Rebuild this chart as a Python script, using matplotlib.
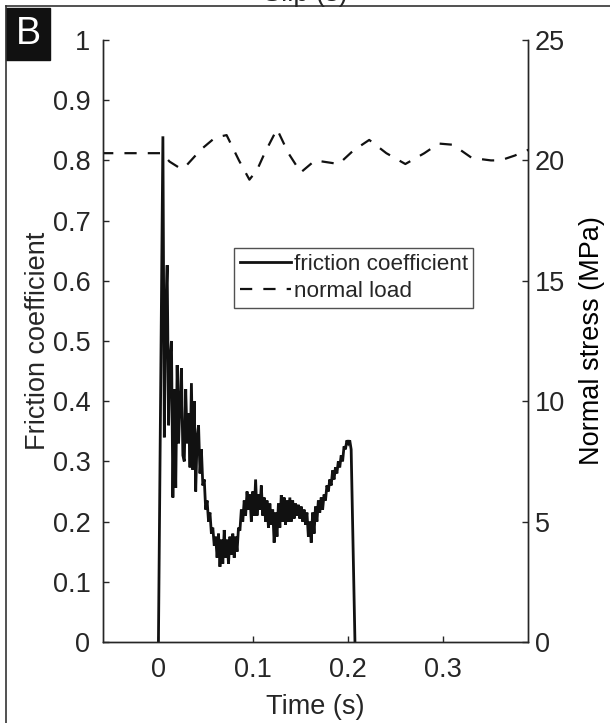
import matplotlib
matplotlib.use('Agg')
import matplotlib.pyplot as plt
from matplotlib.patches import Rectangle
from matplotlib.lines import Line2D

plt.rcParams['font.family'] = ['Liberation Sans', 'DejaVu Sans']

# ---------------- data ----------------
friction_time = [0.0003] + [round(0.005 + 0.0015 * k, 4) for k in range(133)] + [0.207]
friction_coef = [0.0,
    0.84, 0.34, 0.55, 0.626, 0.36, 0.47, 0.50, 0.24, 0.42, 0.256,
    0.46, 0.33, 0.40, 0.455, 0.31, 0.30, 0.42, 0.33, 0.38, 0.29,
    0.43, 0.286, 0.40, 0.25, 0.34, 0.36, 0.28, 0.32, 0.26, 0.27,
    0.22, 0.235, 0.20, 0.215, 0.18, 0.19, 0.16, 0.175, 0.14, 0.18,
    0.125, 0.17, 0.13, 0.186, 0.14, 0.17, 0.13, 0.175, 0.145, 0.18,
    0.14, 0.175, 0.15, 0.19, 0.185, 0.22, 0.20, 0.235, 0.21, 0.25,
    0.22, 0.245, 0.20, 0.25, 0.21, 0.27, 0.21, 0.245, 0.22, 0.26,
    0.21, 0.24, 0.20, 0.235, 0.19, 0.23, 0.195, 0.22, 0.165, 0.215,
    0.175, 0.23, 0.19, 0.244, 0.20, 0.24, 0.195, 0.235, 0.20, 0.24,
    0.20, 0.235, 0.205, 0.23, 0.21, 0.228, 0.205, 0.225, 0.20, 0.22,
    0.195, 0.215, 0.175, 0.20, 0.165, 0.215, 0.18, 0.225, 0.20, 0.235,
    0.215, 0.24, 0.22, 0.245, 0.235, 0.26, 0.25, 0.27, 0.26, 0.285,
    0.27, 0.29, 0.28, 0.30, 0.29, 0.31, 0.30, 0.325, 0.32, 0.335,
    0.33, 0.335, 0.32,
    0.0]

load_time = [-0.06, 0.004, 0.012, 0.024, 0.03, 0.045, 0.06, 0.072, 0.085, 0.096,
             0.104, 0.112, 0.125, 0.137, 0.15, 0.165, 0.19, 0.205, 0.222, 0.24,
             0.26, 0.28, 0.295, 0.31, 0.33, 0.35, 0.36, 0.375, 0.39]
normal_stress = [20.3, 20.3, 19.95, 19.65, 19.8, 20.45, 20.95, 21.05, 20.0, 19.2,
                 19.6, 20.3, 21.3, 20.3, 19.5, 20.0, 19.85, 20.4, 20.85, 20.3,
                 19.85, 20.3, 20.7, 20.65, 20.1, 20.0, 20.0, 20.2, 20.45]

x_ticks = [0, 0.1, 0.2, 0.3]
x_labels = ['0', '0.1', '0.2', '0.3']
y_ticks = [0, 0.1, 0.2, 0.3, 0.4, 0.5, 0.6, 0.7, 0.8, 0.9, 1.0]
y_labels = ['0', '0.1', '0.2', '0.3', '0.4', '0.5', '0.6', '0.7', '0.8', '0.9', '1']
y2_ticks = [0, 5, 10, 15, 20, 25]
y2_labels = ['0', '5', '10', '15', '20', '25']

# ---------------- figure ----------------
W, H = 610, 723
fig = plt.figure(figsize=(W / 100, H / 100), dpi=100)
axc = '#262626'

ax = fig.add_axes([103 / W, 1 - 642 / H, 425 / W, 602 / H])
ax2 = ax.twinx()

ax.plot(friction_time, friction_coef, color='#111111', lw=2.0, solid_joinstyle='miter',
        label='friction coefficient')
ln2, = ax2.plot(load_time, normal_stress, color='#111111', lw=1.6, ls=(0, (5.5, 5)),
                label='normal load')

ax.set_xlim(-0.058, 0.389)
ax.set_ylim(0, 1)
ax2.set_ylim(0, 25)

ax.set_xticks(x_ticks)
ax.set_xticklabels(x_labels)
ax.set_yticks(y_ticks)
ax.set_yticklabels(y_labels)
ax2.set_yticks(y2_ticks)
ax2.set_yticklabels(y2_labels)

fs = 19.5
for a in (ax, ax2):
    for s in a.spines.values():
        s.set_color(axc)
        s.set_linewidth(1.0)
    a.spines['top'].set_visible(False)
ax.tick_params(axis='both', direction='in', length=4.5, width=1.0, color=axc,
               labelcolor=axc, labelsize=fs)
ax.tick_params(axis='y', pad=9)
ax.tick_params(axis='x', pad=11)
ax2.tick_params(axis='y', direction='in', length=4.5, width=1.0, color=axc,
                labelcolor=axc, labelsize=fs, pad=5)

ax.set_xlabel('Time (s)', fontsize=fs, color=axc, labelpad=8)
ax.set_ylabel('Friction coefficient', fontsize=fs, color=axc, labelpad=1.5)
ax2.set_ylabel('Normal stress (MPa)', fontsize=fs, color='#000000', rotation=90, labelpad=10)

h1, l1 = ax.get_legend_handles_labels()
leg = ax2.legend(h1 + [ln2], l1 + ['normal load'], loc='upper left',
                 bbox_to_anchor=(234 / W, 1 - 248 / H), bbox_transform=fig.transFigure,
                 fontsize=16.2, frameon=True, fancybox=False, shadow=False,
                 borderaxespad=0, handlelength=2.3, handletextpad=0.1,
                 borderpad=0.25, labelspacing=0.28)
leg.get_frame().set_edgecolor(axc)
leg.get_frame().set_linewidth(1.0)
for t in leg.get_texts():
    t.set_color(axc)

# figure border and panel label
fig.add_artist(Line2D([6 / W, 6 / W], [0, 1 - 6 / H], color='#333333', lw=1.2,
                      transform=fig.transFigure))
fig.add_artist(Line2D([6 / W, 1], [1 - 6 / H, 1 - 6 / H], color='#333333', lw=1.2,
                      transform=fig.transFigure))
fig.add_artist(Rectangle((6 / W, 1 - 60 / H), 44 / W, 52 / H, color='#111111',
                         transform=fig.transFigure))
fig.text(28 / W, 1 - 34 / H, 'B', color='white', fontsize=27, ha='center', va='center')
fig.text(0.5, 1 - 1 / H, 'Slip (s)', fontsize=fs, color=axc, ha='center', va='baseline')

fig.savefig('out.png', dpi=100)
